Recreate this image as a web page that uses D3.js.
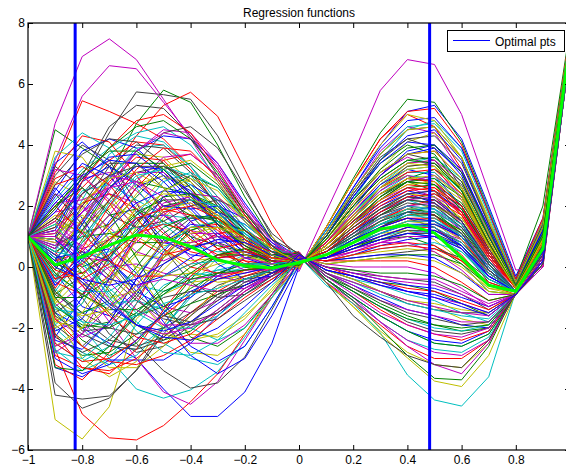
<!DOCTYPE html>
<html>
<head>
<meta charset="utf-8">
<script src="https://cdn.jsdelivr.net/npm/d3@7"></script>
<style>
  html, body { margin: 0; padding: 0; background: #fff; }
  svg { display: block; font-family: "Liberation Sans", Arial, Helvetica, sans-serif; }
</style>
</head>
<body>
<svg id="chart" width="566" height="467"></svg>
<script>
// Input grid shared by every regression curve
const xGrid = [-1, -0.9, -0.8, -0.7, -0.6, -0.5, -0.4, -0.3, -0.2, -0.1, 0,
               0.1, 0.2, 0.3, 0.4, 0.5, 0.6, 0.7, 0.8, 0.9, 1];

// Sampled regression functions, grouped by plotting colour
const blueCurves = [
  [1, -1.5, -2.0, -2.5, -3.0, -4.0, -4.9, -4.9, -4.1, -2.5, 0.0, 1.2, 2.6, 4.0, 5.1, 5.3, 4.2, 2.0, -0.3, 1.6, 7.7],
  [1, -3.3, -3.6, -3.05, -3.05, -3.05, -2.5, -1.6, -0.8, -0.2, 0.05, 0.8, 1.9, 3.0, 3.8, 4.0, 3.2, 1.3, -0.6, 1.1, 7.5],
  [1, 2.5, 3.8, 4.2, 3.9, 3.1, 2.2, 1.4, 0.8, 0.4, 0.1, 0.8, 1.8, 2.7, 3.2, 3.0, 2.0, 0.4, -0.7, 0.9, 7.5],
  [1, -0.6, 0.2, 1.5, 2.6, 3.0, 2.5, 1.4, 0.4, 0.0, 0.0, 1.2, 2.6, 3.9, 4.8, 4.9, 3.9, 1.8, -0.4, 1.5, 7.7],
  [1, 3.4, 4.1, 3.3, 1.8, 0.8, 0.6, 0.9, 1.0, 0.6, 0.15, 0.6, 1.4, 2.0, 2.4, 2.1, 1.2, -0.1, -0.8, 0.6, 7.3],
  [1, 1.0, 1.8, 2.9, 3.8, 4.3, 4.2, 3.4, 2.1, 0.9, 0.3, 0.3, 0.8, 1.3, 1.8, 2.0, 1.6, 0.4, -0.7, 0.8, 7.4],
  [1, -0.2, -1.3, -1.6, -0.8, 0.5, 1.5, 1.8, 1.4, 0.7, 0.25, 0.4, 0.8, 1.1, 1.4, 1.3, 0.7, -0.3, -0.8, 0.6, 7.3],
  [1, -2.3, -1.0, 0.6, 1.6, 1.7, 1.0, 0.1, -0.4, -0.3, 0.3, 0.2, 0.4, 0.7, 0.9, 1.0, 0.7, -0.2, -0.8, 0.5, 7.3],
  [1, 2.6, 1.6, 0.3, -0.8, -1.3, -1.0, -0.3, 0.3, 0.4, 0.3, 0.2, 0.3, 0.4, 0.4, 0.3, -0.2, -0.9, -0.9, 0.4, 7.2],
  [1, 2.3, 3.4, 3.0, 1.9, 0.9, 0.4, 0.3, 0.4, 0.3, 0.45, -0.4, -1.0, -1.6, -2.1, -2.4, -2.5, -2.1, -0.9, 0.1, 7.1],
  [1, -2.1, -1.7, -0.4, 1.1, 2.3, 2.7, 2.2, 1.2, 0.4, 0.4, -0.2, -0.6, -1.0, -1.4, -1.6, -1.9, -2.0, -0.9, 0.1, 7.2],
  [1, 1.2, 2.8, 3.3, 2.7, 2.0, 1.9, 2.0, 1.6, 0.8, 0.15, 0.6, 1.3, 1.9, 2.4, 2.5, 1.8, 0.4, -0.7, 0.8, 7.4],
  [1, 0.3, 0.5, 0.2, -0.6, -1.8, -2.9, -3.5, -3.0, -1.6, 0.05, 1.0, 2.3, 3.5, 4.3, 4.5, 3.5, 1.4, -0.5, 1.2, 7.6],
  [1, -0.5, 0.4, 0.6, -0.2, -1.5, -2.6, -3.1, -2.6, -1.3, 0.2, 0.5, 1.1, 1.8, 2.3, 2.2, 1.5, 0.2, -0.8, 0.7, 7.4],
  [1, 1.8, 2.9, 3.6, 3.7, 3.0, 2.0, 1.1, 0.5, 0.2, 0.05, 0.9, 2.0, 3.0, 3.7, 3.9, 3.1, 1.3, -0.6, 1.1, 7.5],
  [1, -2.4, -2.7, -1.8, -0.4, 0.8, 1.4, 1.3, 0.8, 0.3, 0.15, 0.7, 1.5, 2.1, 2.5, 2.3, 1.5, 0.1, -0.8, 0.7, 7.4],
  [1, 0.9, 0.2, -0.4, -0.6, -0.3, 0.3, 0.8, 0.9, 0.5, 0.35, 0.0, -0.2, -0.4, -0.6, -0.7, -1.0, -1.3, -0.9, 0.3, 7.2],
  [1, -0.6, 0.3, 1.3, 2.1, 2.5, 2.4, 1.8, 1.0, 0.4, 0.05, 1.0, 2.3, 3.4, 4.1, 4.0, 3.0, 1.0, -0.6, 1.2, 7.6],
  [1, 0.2, 1.4, 2.6, 3.3, 3.2, 2.4, 1.4, 0.6, 0.2, 0.4, -0.1, -0.3, -0.6, -0.8, -1.0, -1.3, -1.6, -0.9, 0.2, 7.2],
  [1, -3.0, -3.5, -3.2, -2.4, -1.5, -0.8, -0.4, -0.2, 0.0, 0.25, 0.3, 0.7, 1.1, 1.4, 1.4, 1.0, 0.0, -0.8, 0.6, 7.3],
  [1, 2.1, 3.0, 3.5, 3.4, 2.8, 1.9, 1.0, 0.3, 0.0, 0.2, 0.4, 0.9, 1.3, 1.6, 1.5, 1.0, -0.1, -0.8, 0.6, 7.3],
  [1, 0.0, -0.4, -0.6, -0.4, 0.1, 0.6, 0.9, 0.8, 0.4, 0.25, 0.3, 0.7, 1.0, 1.3, 1.2, 0.7, -0.3, -0.8, 0.5, 7.3],
  [1, 0.2, -0.5, -1.3, -1.9, -2.1, -1.8, -1.2, -0.6, -0.2, 0.25, 0.3, 0.6, 0.9, 1.1, 1.0, 0.6, -0.3, -0.8, 0.5, 7.3],
  [1, 0.4, -0.4, -1.2, -1.9, -2.3, -2.4, -2.0, -1.3, -0.5, 0.4, -0.1, -0.3, -0.5, -0.8, -0.9, -1.2, -1.5, -0.9, 0.2, 7.2]
];
const greenCurves = [
  [1, 4.5, 3.9, 3.3, 2.8, 2.6, 2.4, 1.9, 1.1, 0.4, -0.05, 1.3, 2.9, 4.4, 5.5, 5.4, 4.1, 1.9, -0.4, 2.0, 7.8],
  [1, 0.2, 1.5, 3.0, 4.7, 5.8, 5.4, 4.0, 2.3, 0.9, 0.05, 1.0, 2.3, 3.4, 4.0, 3.7, 2.5, 0.7, -0.7, 1.0, 7.5],
  [1, -1.2, -2.0, -1.8, -0.9, 0.3, 1.2, 1.5, 1.2, 0.6, 0.2, 0.6, 1.4, 2.3, 2.9, 3.2, 2.6, 1.0, -0.6, 0.9, 7.4],
  [1, 1.2, 0.4, -0.8, -1.9, -2.4, -2.1, -1.4, -0.7, -0.2, 0.1, 0.7, 1.6, 2.4, 2.8, 2.5, 1.5, 0.1, -0.8, 0.7, 7.4],
  [1, -0.9, -0.3, 0.8, 1.8, 2.2, 1.7, 0.8, 0.0, -0.2, 0.2, 0.5, 1.1, 1.7, 2.2, 2.1, 1.4, 0.1, -0.8, 0.7, 7.4],
  [1, -1.5, -2.4, -2.9, -2.5, -1.5, -0.4, 0.4, 0.6, 0.4, 0.2, 0.4, 0.9, 1.4, 1.8, 1.7, 1.1, -0.1, -0.8, 0.6, 7.3],
  [1, 1.6, 1.1, 1.4, 2.3, 3.2, 3.4, 2.7, 1.6, 0.6, 0.25, 0.3, 0.6, 1.0, 1.3, 1.4, 1.0, 0.0, -0.8, 0.6, 7.3],
  [1, 0.1, -0.2, 0.3, 1.2, 2.0, 2.2, 1.8, 1.0, 0.3, 0.25, 0.3, 0.7, 0.9, 1.0, 0.7, 0.1, -0.8, -0.9, 0.4, 7.2],
  [1, -0.3, 0.8, 1.7, 1.9, 1.5, 1.0, 0.7, 0.5, 0.3, 0.3, 0.1, 0.2, 0.3, 0.4, 0.4, 0.1, -0.6, -0.8, 0.4, 7.3],
  [1, 0.4, 0.0, 0.4, 1.4, 2.5, 3.0, 2.6, 1.6, 0.6, 0.4, -0.1, -0.3, -0.5, -0.6, -0.8, -1.2, -1.6, -0.9, 0.2, 7.2],
  [1, 0.9, -0.2, -1.2, -1.6, -1.3, -0.7, -0.2, 0.1, 0.1, 0.4, -0.3, -0.7, -1.2, -1.6, -1.9, -2.1, -2.0, -0.9, 0.1, 7.2],
  [1, 0.5, 1.0, 1.1, 0.8, 0.8, 1.2, 1.5, 1.2, 0.6, 0.2, 0.4, 1.0, 1.5, 1.9, 1.8, 1.1, -0.1, -0.8, 0.7, 7.3],
  [1, 2.0, 2.6, 1.8, 0.3, -1.2, -2.3, -2.6, -2.0, -0.9, 0.35, -0.4, -1.1, -2.0, -2.9, -3.65, -3.7, -2.6, -0.8, 0.4, 7.4],
  [1, -0.8, -1.5, -1.1, 0.0, 1.1, 1.7, 1.6, 1.0, 0.4, 0.15, 0.6, 1.4, 2.1, 2.6, 2.7, 2.1, 0.7, -0.7, 0.8, 7.4],
  [1, -2.2, -2.9, -2.8, -2.2, -1.6, -1.2, -0.9, -0.6, -0.2, 0.2, 0.4, 0.9, 1.3, 1.7, 1.7, 1.2, 0.1, -0.8, 0.6, 7.3],
  [1, -0.1, 1.2, 2.6, 3.4, 3.4, 2.6, 1.5, 0.6, 0.1, 0.15, 0.6, 1.4, 2.2, 2.8, 2.9, 2.3, 0.8, -0.7, 0.9, 7.4],
  [1, -1.3, -1.9, -2.0, -1.5, -0.7, 0.0, 0.4, 0.4, 0.2, 0.1, 0.7, 1.5, 2.3, 2.8, 2.7, 1.9, 0.5, -0.7, 0.8, 7.4],
  [1, -1.0, -1.0, -0.4, 0.5, 1.3, 1.7, 1.5, 1.0, 0.4, 0.05, 0.9, 2.0, 2.9, 3.5, 3.6, 2.8, 1.0, -0.6, 1.0, 7.5],
  [1, 0.1, 0.3, 0.9, 1.7, 2.3, 2.4, 2.0, 1.2, 0.5, 0.35, 0.0, -0.1, -0.2, -0.2, -0.3, -0.6, -1.1, -0.9, 0.3, 7.2],
  [1, -0.2, -0.9, -1.4, -1.4, -0.9, -0.2, 0.4, 0.6, 0.4, 0.45, -0.3, -0.8, -1.3, -1.7, -1.9, -2.0, -1.9, -0.9, 0.1, 7.2],
  [1, -3.3, -3.4, -2.6, -1.6, -0.8, -0.4, -0.2, -0.1, 0.0, 0.45, -0.4, -1.0, -1.6, -2.1, -2.5, -2.6, -2.2, -0.9, 0.1, 7.1],
  [1, 1.9, 3.1, 3.8, 3.8, 3.2, 2.3, 1.4, 0.7, 0.2, 0.05, 1.0, 2.2, 3.2, 3.9, 4.0, 3.1, 1.2, -0.6, 1.1, 7.5],
  [1, 2.0, 2.9, 3.9, 4.6, 4.8, 4.2, 3.1, 1.8, 0.7, 0.05, 0.9, 2.0, 2.9, 3.5, 3.4, 2.5, 0.8, -0.7, 1.0, 7.5]
];
const redCurves = [
  [1, 3.3, 5.45, 5.1, 4.7, 4.2, 3.3, 2.3, 1.3, 0.5, -0.05, 1.3, 2.8, 4.2, 5.0, 4.6, 3.2, 1.2, -0.5, 1.5, 7.7],
  [1, 1.3, 2.0, 3.0, 4.3, 5.3, 5.73, 4.94, 3.2, 1.4, 0.1, 0.9, 2.0, 3.0, 3.7, 3.8, 2.9, 1.0, -0.6, 1.0, 7.5],
  [1, -2.7, -4.82, -5.6, -5.67, -5.2, -4.42, -3.5, -2.2, -0.9, 0.1, 0.7, 1.6, 2.5, 3.1, 3.1, 2.3, 0.6, -0.7, 0.8, 7.4],
  [1, 0.4, 1.5, 2.8, 3.6, 3.5, 2.6, 1.3, 0.2, -0.2, -0.05, 1.3, 2.8, 4.2, 5.1, 5.2, 4.0, 1.8, -0.4, 1.6, 7.7],
  [1, -3.2, -3.7, -2.8, -1.2, 0.4, 1.3, 1.4, 1.0, 0.5, 0.2, 0.4, 0.9, 1.5, 2.0, 2.2, 1.7, 0.4, -0.7, 0.7, 7.4],
  [1, 1.5, 2.6, 3.5, 4.1, 4.0, 3.2, 2.0, 0.9, 0.3, 0.25, 0.3, 0.8, 1.3, 1.7, 1.8, 1.3, 0.2, -0.8, 0.7, 7.4],
  [1, 0.2, 0.5, 1.4, 2.6, 3.5, 3.7, 3.0, 1.8, 0.7, 0.2, 0.4, 0.9, 1.2, 1.4, 1.1, 0.4, -0.6, -0.9, 0.5, 7.3],
  [1, -2.9, -3.3, -3.4, -3.0, -2.3, -1.5, -0.8, -0.3, 0.0, 0.25, 0.3, 0.5, 0.7, 0.8, 0.7, 0.2, -0.6, -0.8, 0.5, 7.3],
  [1, 3.1, 4.3, 4.1, 3.0, 1.8, 0.9, 0.4, 0.2, 0.1, 0.3, 0.2, 0.2, 0.2, 0.2, 0.0, -0.5, -1.1, -0.9, 0.3, 7.2],
  [1, 1.1, 2.1, 2.4, 1.9, 1.1, 0.5, 0.3, 0.4, 0.3, 0.5, -0.5, -1.2, -1.9, -2.6, -3.0, -3.0, -2.4, -0.9, 0.0, 7.1],
  [1, -0.5, -0.9, -0.3, 0.9, 1.9, 2.2, 1.7, 0.9, 0.3, 0.45, -0.3, -0.8, -1.4, -1.9, -2.2, -2.4, -2.1, -0.9, 0.1, 7.1],
  [1, 1.6, 2.8, 3.9, 4.8, 5.0, 4.4, 3.2, 1.8, 0.7, 0.25, 0.3, 0.8, 1.2, 1.5, 1.5, 1.0, -0.1, -0.8, 0.6, 7.3],
  [1, 2.7, 3.0, 2.1, 0.9, 0.4, 0.6, 1.1, 1.2, 0.7, 0.3, 0.2, 0.4, 0.6, 0.7, 0.6, 0.2, -0.5, -0.8, 0.5, 7.3],
  [1, 2.9, 3.3, 2.7, 1.6, 0.6, 0.0, -0.2, -0.2, 0.0, 0.25, 0.3, 0.7, 1.0, 1.3, 1.3, 0.8, -0.2, -0.8, 0.6, 7.3],
  [1, -0.4, -0.2, 0.4, 1.1, 1.4, 1.2, 0.6, 0.1, -0.1, 0.35, 0.0, -0.3, -0.5, -0.7, -0.8, -1.1, -1.4, -0.9, 0.3, 7.2],
  [1, 0.4, -0.6, -1.6, -2.3, -2.5, -2.2, -1.5, -0.8, -0.3, 0.2, 0.5, 1.1, 1.6, 1.9, 1.7, 1.0, -0.2, -0.8, 0.6, 7.3],
  [1, -2.2, -3.3, -3.5, -2.7, -1.4, -0.3, 0.4, 0.5, 0.3, 0.2, 0.4, 0.8, 1.3, 1.6, 1.6, 1.1, 0.0, -0.8, 0.6, 7.3],
  [1, -2.5, -3.1, -3.0, -2.4, -1.6, -0.9, -0.4, -0.1, 0.0, 0.15, 0.6, 1.3, 2.0, 2.5, 2.6, 2.0, 0.6, -0.7, 0.8, 7.4],
  [1, 2.0, 1.1, 0.2, -0.3, -0.3, 0.1, 0.6, 0.8, 0.5, 0.1, 0.8, 1.7, 2.6, 3.1, 3.2, 2.4, 0.8, -0.7, 0.9, 7.5],
  [1, -1.7, -2.6, -3.1, -3.2, -2.9, -2.4, -1.7, -1.0, -0.4, 0.1, 0.7, 1.6, 2.4, 2.9, 2.8, 2.0, 0.5, -0.7, 0.8, 7.4],
  [1, -0.7, 0.6, 2.0, 3.2, 3.9, 3.8, 2.9, 1.7, 0.6, 0.1, 0.7, 1.5, 2.2, 2.7, 2.6, 1.8, 0.4, -0.7, 0.8, 7.4],
  [1, -0.4, 0.1, 0.9, 1.6, 1.9, 1.7, 1.2, 0.6, 0.2, 0.15, 0.6, 1.4, 2.1, 2.6, 2.5, 1.7, 0.3, -0.7, 0.8, 7.4],
  [1, -0.1, -0.4, 0.1, 1.0, 1.8, 2.0, 1.6, 0.9, 0.3, 0.2, 0.5, 1.2, 1.8, 2.3, 2.4, 1.8, 0.4, -0.7, 0.8, 7.4]
];
const cyanCurves = [
  [1, -1.0, -2.0, -3.0, -4.0, -4.3, -4.03, -3.43, -2.3, -1.0, 0.0, 1.0, 2.2, 3.5, 4.5, 4.8, 3.9, 1.9, -0.4, 1.4, 7.6],
  [1, -2.5, -3.1, -2.6, -1.5, -0.6, -0.2, -0.3, -0.5, -0.3, 0.05, 0.7, 1.7, 2.7, 3.4, 3.6, 2.9, 1.2, -0.6, 1.0, 7.5],
  [1, 2.2, 3.2, 3.9, 4.4, 4.6, 4.0, 2.9, 1.6, 0.6, 0.15, 0.7, 1.6, 2.4, 3.0, 2.9, 2.0, 0.4, -0.7, 0.8, 7.4],
  [1, -2.0, -2.8, -3.2, -2.9, -2.0, -1.0, -0.3, 0.0, 0.1, 0.0, 1.2, 2.5, 3.7, 4.6, 4.7, 3.8, 1.7, -0.5, 1.4, 7.6],
  [1, 2.0, 1.2, 0.1, -0.6, -0.8, -0.5, -0.1, 0.1, 0.1, 0.15, 0.6, 1.3, 1.9, 2.2, 1.9, 1.0, -0.2, -0.8, 0.6, 7.3],
  [1, 0.5, 2.2, 3.7, 4.3, 4.1, 3.3, 2.3, 1.3, 0.5, 0.2, 0.5, 1.1, 1.6, 1.8, 1.5, 0.7, -0.4, -0.8, 0.6, 7.3],
  [1, -0.7, -1.8, -2.6, -2.7, -2.0, -0.9, 0.0, 0.4, 0.3, 0.25, 0.3, 0.7, 1.0, 1.2, 1.1, 0.6, -0.4, -0.8, 0.5, 7.3],
  [1, -2.7, -3.4, -3.0, -1.9, -0.9, -0.3, -0.1, -0.1, 0.0, 0.3, 0.2, 0.4, 0.6, 0.7, 0.8, 0.5, -0.3, -0.8, 0.5, 7.3],
  [1, 1.4, 2.5, 2.7, 2.2, 1.7, 1.6, 1.7, 1.4, 0.7, 0.45, -0.4, -1.1, -1.8, -2.4, -2.7, -2.8, -2.3, -0.9, 0.1, 7.1],
  [1, -0.8, 0.4, 1.1, 1.3, 1.4, 1.6, 1.6, 1.1, 0.5, 0.4, -0.1, -0.4, -0.6, -0.9, -1.1, -1.5, -1.8, -0.9, 0.2, 7.2],
  [1, -0.1, 1.4, 2.9, 3.9, 4.0, 3.3, 2.1, 1.0, 0.3, 0.45, -0.4, -1.0, -1.6, -2.1, -2.5, -2.6, -2.2, -0.9, 0.1, 7.1],
  [1, 0.9, 0.1, -0.9, -1.8, -2.5, -3.0, -3.2, -2.6, -1.3, 0.2, 0.3, 0.6, 0.9, 1.1, 1.0, 0.5, -0.4, -0.8, 0.5, 7.3],
  [1, -1.4, -1.5, -1.2, -1.1, -1.4, -2.0, -2.4, -2.0, -1.0, 0.35, -0.6, -1.2, -2.16, -3.54, -4.36, -4.56, -3.6, -0.8, 0.4, 7.4],
  [1, 0.3, 1.0, 2.0, 2.9, 3.3, 3.0, 2.1, 1.1, 0.4, 0.1, 0.8, 1.8, 2.6, 3.2, 3.3, 2.5, 0.8, -0.7, 0.9, 7.5],
  [1, 3.6, 4.4, 3.9, 2.6, 1.4, 0.7, 0.5, 0.5, 0.3, 0.1, 0.7, 1.6, 2.5, 3.1, 3.1, 2.3, 0.7, -0.7, 0.9, 7.4],
  [1, -1.9, -1.2, 0.2, 1.7, 2.8, 3.1, 2.6, 1.5, 0.6, 0.4, -0.2, -0.5, -0.9, -1.2, -1.4, -1.6, -1.7, -0.9, 0.2, 7.2],
  [1, 0.7, 0.1, -0.7, -1.5, -2.0, -2.0, -1.6, -0.9, -0.3, 0.45, -0.3, -0.8, -1.3, -1.7, -2.0, -2.1, -1.9, -0.9, 0.1, 7.1],
  [1, -0.3, -0.8, -0.8, -0.2, 0.6, 1.3, 1.5, 1.1, 0.5, 0.2, 0.4, 0.9, 1.4, 1.8, 1.8, 1.3, 0.2, -0.8, 0.7, 7.3],
  [1, -0.5, 0.8, 2.1, 3.0, 3.2, 2.7, 1.8, 0.9, 0.3, 0.2, 0.5, 1.1, 1.6, 2.0, 1.9, 1.3, 0.1, -0.8, 0.7, 7.4],
  [1, 0.5, 0.3, 0.5, 1.1, 1.8, 2.2, 2.0, 1.3, 0.5, 0.2, 0.4, 1.0, 1.5, 1.9, 1.9, 1.4, 0.2, -0.8, 0.7, 7.4],
  [1, 1.4, 0.3, -1.0, -2.1, -2.8, -2.9, -2.4, -1.5, -0.6, 0.2, 0.5, 1.0, 1.4, 1.7, 1.6, 1.0, -0.1, -0.8, 0.6, 7.3],
  [1, -2.8, -3.0, -2.3, -1.2, -0.3, 0.1, 0.2, 0.1, 0.1, 0.2, 0.4, 0.8, 1.2, 1.5, 1.5, 1.1, 0.0, -0.8, 0.6, 7.3],
  [1, -1.3, -1.8, -1.9, -1.6, -1.2, -0.9, -0.7, -0.4, -0.1, 0.2, 0.4, 0.8, 1.1, 1.4, 1.3, 0.8, -0.2, -0.8, 0.6, 7.3]
];
const magentaCurves = [
  [1, 4.7, 6.9, 7.48, 6.8, 5.5, 4.2, 2.8, 1.5, 0.6, 0.0, 1.1, 2.5, 3.8, 4.6, 4.4, 3.1, 1.1, -0.6, 1.3, 7.6],
  [1, 3.5, 5.6, 6.6, 6.5, 5.4, 4.3, 3.3, 2.0, 0.9, 0.05, 0.9, 2.1, 3.1, 3.6, 3.3, 2.2, 0.5, -0.7, 0.9, 7.5],
  [1, 0.5, -0.6, -1.8, -3.0, -4.1, -4.5, -3.76, -2.4, -1.0, 0.15, 0.6, 1.4, 2.2, 2.8, 3.0, 2.4, 0.8, -0.7, 0.9, 7.4],
  [1, 1.8, 2.0, 1.3, 0.5, 0.2, 0.6, 1.1, 1.2, 0.7, -0.15, 1.8, 3.7, 5.79, 6.8, 6.64, 5.0, 2.46, -0.1, 0.0, 7.3],
  [1, 0.8, 0.6, 0.9, 1.5, 2.0, 2.1, 1.6, 0.8, 0.2, 0.15, 0.7, 1.5, 2.2, 2.6, 2.3, 1.4, 0.0, -0.8, 0.7, 7.4],
  [1, 0.6, 1.8, 2.4, 2.1, 1.2, 0.3, -0.3, -0.5, -0.3, 0.2, 0.5, 1.0, 1.6, 2.0, 1.9, 1.2, 0.0, -0.8, 0.7, 7.4],
  [1, -2.8, -2.2, -0.6, 1.0, 2.1, 2.3, 1.8, 1.0, 0.4, 0.25, 0.4, 0.8, 1.3, 1.6, 1.5, 0.9, -0.2, -0.8, 0.6, 7.3],
  [1, 2.4, 2.0, 0.9, -0.4, -1.3, -1.5, -1.1, -0.6, -0.2, 0.3, 0.2, 0.5, 0.8, 1.1, 1.2, 0.9, -0.1, -0.8, 0.6, 7.3],
  [1, 1.9, 2.9, 3.1, 2.5, 1.7, 1.2, 1.0, 0.8, 0.4, 0.25, 0.3, 0.6, 0.8, 0.8, 0.5, -0.1, -0.9, -0.9, 0.4, 7.2],
  [1, 0.0, 1.1, 2.5, 3.8, 4.5, 4.4, 3.4, 2.0, 0.8, 0.35, 0.1, 0.0, 0.0, 0.0, -0.2, -0.7, -1.3, -0.9, 0.3, 7.2],
  [1, -1.3, -0.6, 0.0, 0.1, -0.2, -0.4, -0.3, -0.1, 0.0, 0.4, -0.1, -0.3, -0.6, -0.8, -1.0, -1.2, -1.5, -0.9, 0.2, 7.2],
  [1, 2.1, 2.2, 2.6, 3.1, 3.1, 2.4, 1.4, 0.6, 0.1, 0.5, -0.5, -1.1, -1.8, -2.4, -2.8, -2.9, -2.4, -0.9, 0.0, 7.1],
  [1, 1.0, 0.3, 0.2, 0.8, 1.7, 2.4, 2.3, 1.5, 0.6, 0.35, -0.4, -1.0, -1.8, -2.6, -3.2, -3.5, -2.5, -0.8, 0.4, 7.3],
  [1, -1.7, -2.3, -1.9, -0.8, 0.4, 1.1, 1.1, 0.7, 0.3, 0.2, 0.5, 1.1, 1.6, 2.0, 2.1, 1.5, 0.3, -0.8, 0.7, 7.4],
  [1, 0.0, 0.7, 1.7, 2.8, 3.6, 3.7, 3.0, 1.8, 0.7, 0.2, 0.5, 1.2, 1.8, 2.2, 2.3, 1.8, 0.5, -0.7, 0.8, 7.4],
  [1, 1.1, 2.4, 3.0, 2.8, 2.0, 1.1, 0.3, -0.1, -0.1, 0.1, 0.8, 1.8, 2.8, 3.4, 3.5, 2.8, 1.1, -0.6, 1.0, 7.5],
  [1, 3.2, 3.0, 2.2, 1.3, 0.8, 0.8, 1.0, 1.0, 0.5, 0.1, 0.8, 1.7, 2.5, 3.0, 2.8, 1.8, 0.3, -0.8, 0.8, 7.4],
  [1, 1.5, 0.6, -0.5, -1.4, -1.9, -1.9, -1.5, -0.8, -0.3, 0.35, 0.0, -0.1, -0.3, -0.4, -0.4, -0.8, -1.2, -0.9, 0.3, 7.2],
  [1, 1.2, 0.7, -0.1, -1.0, -1.9, -2.5, -2.5, -1.9, -0.9, 0.25, 0.3, 0.5, 0.8, 1.0, 1.0, 0.6, -0.3, -0.8, 0.5, 7.3],
  [1, -2.6, -2.2, -1.3, -0.6, -0.4, -0.6, -0.8, -0.7, -0.3, 0.4, -0.2, -0.5, -0.8, -1.1, -1.3, -1.5, -1.6, -0.9, 0.2, 7.2],
  [1, 0.6, 1.5, 2.7, 3.8, 4.4, 4.2, 3.2, 1.9, 0.7, 0.35, 0.0, -0.2, -0.4, -0.5, -0.6, -0.9, -1.3, -0.9, 0.3, 7.2],
  [1, 1.0, 0.0, -1.1, -1.9, -2.2, -2.0, -1.4, -0.7, -0.2, 0.4, -0.2, -0.6, -1.1, -1.4, -1.6, -1.8, -1.8, -0.9, 0.2, 7.2],
  [1, 0.7, 1.8, 2.6, 2.8, 2.3, 1.5, 0.8, 0.3, 0.1, 0.45, -0.3, -0.9, -1.5, -1.9, -2.2, -2.3, -2.0, -0.9, 0.1, 7.1]
];
const oliveCurves = [
  [1, -5.0, -5.64, -4.58, -1.7, -0.9, -0.5, -0.4, -0.3, -0.1, 0.0, 0.9, 2.0, 3.2, 4.1, 4.4, 3.6, 1.6, -0.5, 1.2, 7.6],
  [1, 0.0, -0.6, -0.5, 0.4, 1.6, 2.4, 2.3, 1.6, 0.7, 0.1, 0.8, 1.8, 2.7, 3.3, 3.4, 2.5, 0.8, -0.7, 0.9, 7.5],
  [1, -1.8, -1.2, 0.4, 2.0, 2.9, 2.8, 1.9, 0.8, 0.1, 0.1, 0.8, 1.8, 2.6, 3.0, 2.7, 1.7, 0.2, -0.8, 0.8, 7.4],
  [1, 2.8, 2.3, 1.2, 0.4, 0.3, 0.9, 1.6, 1.7, 1.0, -0.05, 1.3, 2.8, 4.0, 5.0, 4.8, 3.6, 1.4, -0.5, 1.5, 7.7],
  [1, 3.8, 3.6, 2.4, 1.2, 0.7, 0.8, 1.0, 0.9, 0.5, 0.2, 0.4, 0.9, 1.4, 1.8, 2.0, 1.5, 0.3, -0.7, 0.7, 7.4],
  [1, -1.1, 0.2, 1.0, 1.0, 0.5, 0.2, 0.3, 0.5, 0.4, 0.25, 0.3, 0.7, 1.1, 1.5, 1.6, 1.2, 0.1, -0.8, 0.6, 7.3],
  [1, -1.6, -3.0, -3.6, -3.1, -1.9, -0.6, 0.3, 0.6, 0.4, 0.2, 0.4, 0.8, 1.1, 1.2, 0.9, 0.2, -0.7, -0.9, 0.4, 7.3],
  [1, 1.7, 1.4, 1.9, 2.7, 3.0, 2.6, 1.6, 0.7, 0.1, 0.3, 0.2, 0.4, 0.5, 0.6, 0.5, 0.0, -0.7, -0.8, 0.4, 7.3],
  [1, 0.8, 1.9, 3.0, 3.7, 3.6, 2.8, 1.8, 0.9, 0.3, 0.5, -0.5, -1.3, -2.1, -2.8, -3.2, -3.3, -2.5, -0.85, 0.1, 7.2],
  [1, 0.2, 1.6, 2.1, 1.6, 0.6, -0.2, -0.5, -0.4, -0.2, 0.4, -0.2, -0.5, -0.8, -1.1, -1.3, -1.7, -1.9, -0.9, 0.2, 7.2],
  [1, 1.5, 0.9, 0.0, -1.0, -2.0, -2.8, -2.9, -2.2, -1.0, 0.1, 0.8, 1.9, 2.8, 3.4, 3.5, 2.6, 0.9, -0.7, 1.0, 7.5],
  [1, 1.1, 1.7, 1.2, -0.1, -1.4, -2.2, -2.3, -1.7, -0.7, 0.3, 0.1, 0.2, 0.3, 0.3, 0.2, -0.2, -0.8, -0.9, 0.4, 7.2],
  [1, -0.2, -0.9, -1.5, -1.9, -2.2, -2.4, -2.2, -1.6, -0.8, 0.35, -0.5, -1.3, -2.2, -2.98, -3.74, -3.92, -2.9, -0.85, 0.3, 7.3],
  [1, 1.4, 1.2, 0.6, 0.0, -0.3, -0.2, 0.1, 0.3, 0.2, 0.4, -0.1, -0.4, -0.8, -1.1, -1.2, -1.4, -1.5, -0.9, 0.2, 7.2],
  [1, -1.3, -2.6, -3.3, -3.3, -2.6, -1.6, -0.7, -0.1, 0.1, 0.2, 0.4, 0.8, 1.2, 1.5, 1.4, 0.9, -0.2, -0.8, 0.6, 7.3],
  [1, 0.4, -0.5, -1.0, -0.8, -0.1, 0.8, 1.3, 1.2, 0.6, 0.15, 0.6, 1.3, 1.9, 2.4, 2.3, 1.6, 0.3, -0.8, 0.7, 7.4],
  [1, -0.9, 0.0, 1.2, 2.4, 3.3, 3.5, 2.8, 1.6, 0.6, 0.2, 0.4, 1.0, 1.5, 1.9, 2.0, 1.6, 0.4, -0.7, 0.7, 7.4],
  [1, 0.9, 2.1, 2.9, 3.1, 2.6, 1.8, 1.0, 0.4, 0.1, 0.0, 1.1, 2.5, 3.7, 4.5, 4.6, 3.6, 1.5, -0.5, 1.3, 7.6],
  [1, -2.6, -2.0, -0.6, 0.9, 1.9, 2.1, 1.6, 0.8, 0.3, 0.05, 0.9, 1.9, 2.8, 3.4, 3.3, 2.4, 0.7, -0.7, 0.9, 7.5],
  [1, -1.2, -0.3, 0.9, 1.9, 2.4, 2.3, 1.7, 0.9, 0.3, 0.05, 0.9, 2.1, 3.1, 3.7, 3.8, 2.9, 1.1, -0.6, 1.0, 7.5],
  [1, -1.8, -2.0, -1.3, -0.2, 0.8, 1.3, 1.3, 0.8, 0.3, 0.1, 0.7, 1.7, 2.6, 3.2, 3.3, 2.6, 0.9, -0.7, 0.9, 7.5],
  [1, -1.1, -1.6, -1.4, -0.6, 0.4, 1.1, 1.3, 1.0, 0.4, 0.1, 0.7, 1.6, 2.4, 2.9, 3.0, 2.3, 0.7, -0.7, 0.9, 7.4],
  [1, -2.0, -1.5, -0.2, 1.3, 2.5, 2.9, 2.5, 1.5, 0.6, 0.15, 0.6, 1.4, 2.2, 2.7, 2.8, 2.2, 0.7, -0.7, 0.8, 7.4]
];
const grayCurves = [
  [1, 1.0, 2.8, 4.4, 5.74, 5.65, 5.5, 4.3, 2.6, 1.0, 0.0, 1.0, 2.4, 3.6, 4.2, 3.9, 2.6, 0.7, -0.6, 1.2, 7.5],
  [1, -4.2, -4.33, -4.23, -3.4, -2.2, -1.2, -0.6, -0.3, -0.1, 0.1, 0.7, 1.6, 2.6, 3.3, 3.4, 2.7, 1.1, -0.6, 1.0, 7.5],
  [1, -3.8, -4.63, -4.3, -3.37, -2.0, -0.9, -0.2, 0.1, 0.2, 0.15, 0.6, 1.4, 2.2, 2.8, 2.7, 1.9, 0.4, -0.7, 0.8, 7.4],
  [1, 0.3, -0.5, -1.5, -2.5, -3.4, -3.97, -3.8, -2.95, -1.4, 0.2, 0.4, 1.0, 1.7, 2.2, 2.4, 1.9, 0.5, -0.7, 0.8, 7.4],
  [1, 3.0, 4.0, 3.5, 2.1, 0.6, -0.5, -1.0, -0.9, -0.4, 0.2, 0.5, 1.2, 1.7, 2.0, 1.7, 0.9, -0.3, -0.8, 0.6, 7.3],
  [1, 0.3, -1.0, -2.2, -2.8, -2.6, -1.9, -1.0, -0.4, -0.1, 0.2, 0.5, 1.0, 1.4, 1.6, 1.3, 0.6, -0.5, -0.8, 0.5, 7.3],
  [1, -0.4, 0.9, 2.2, 3.1, 3.3, 2.8, 1.8, 0.9, 0.3, 0.0, 1.1, 2.5, 3.7, 4.5, 4.6, 3.6, 1.5, -0.5, 1.4, 7.6],
  [1, 0.9, 2.4, 3.4, 3.4, 2.6, 1.5, 0.6, 0.0, -0.2, 0.3, 0.2, 0.3, 0.4, 0.5, 0.6, 0.3, -0.4, -0.8, 0.5, 7.3],
  [1, 1.3, 3.0, 4.6, 5.3, 5.2, 4.3, 3.0, 1.7, 0.6, 0.35, 0.0, -0.2, -0.3, -0.4, -0.5, -0.9, -1.4, -0.9, 0.3, 7.2],
  [1, 0.7, 1.2, 2.2, 3.4, 4.4, 4.6, 3.9, 2.5, 1.1, 0.4, -0.1, -0.4, -0.8, -1.2, -1.4, -1.5, -1.5, -0.9, 0.2, 7.2],
  [1, -1.0, -2.1, -2.0, -1.0, 0.1, 0.7, 0.8, 0.5, 0.2, 0.15, 0.7, 1.5, 2.3, 2.9, 2.8, 2.0, 0.5, -0.7, 0.8, 7.4],
  [1, 3.3, 2.6, 1.7, 1.3, 1.5, 2.0, 2.2, 1.8, 0.9, 0.45, -0.3, -0.8, -1.3, -1.8, -2.1, -2.2, -2.0, -0.9, 0.1, 7.1],
  [1, -1.9, -2.6, -1.8, -0.4, 0.9, 1.6, 1.6, 1.0, 0.4, 0.35, -0.5, -1.6, -2.3, -2.9, -3.2, -3.3, -2.4, -0.8, 0.4, 7.3],
  [1, 0.6, 2.0, 3.3, 4.0, 3.9, 3.1, 2.0, 1.0, 0.4, 0.0, 1.1, 2.4, 3.5, 4.2, 4.3, 3.4, 1.4, -0.5, 1.3, 7.6],
  [1, -1.6, -2.2, -2.6, -2.7, -2.4, -1.8, -1.1, -0.5, -0.1, 0.05, 1.0, 2.2, 3.1, 3.7, 3.5, 2.5, 0.7, -0.7, 1.0, 7.5],
  [1, 2.7, 3.7, 4.2, 4.1, 3.4, 2.4, 1.4, 0.7, 0.3, 0.25, 0.3, 0.6, 0.9, 1.1, 1.1, 0.7, -0.2, -0.8, 0.5, 7.3],
  [1, -0.9, -1.5, -2.0, -2.2, -2.0, -1.5, -0.9, -0.4, -0.1, 0.25, 0.3, 0.6, 0.9, 1.2, 1.2, 0.8, -0.1, -0.8, 0.6, 7.3],
  [1, -1.5, -0.9, 0.3, 1.5, 2.2, 2.2, 1.6, 0.8, 0.3, 0.15, 0.6, 1.2, 1.8, 2.2, 2.1, 1.4, 0.1, -0.8, 0.7, 7.4],
  [1, -0.8, -1.7, -2.4, -2.6, -2.3, -1.6, -0.9, -0.4, -0.1, 0.2, 0.5, 1.2, 1.9, 2.4, 2.5, 2.0, 0.6, -0.7, 0.8, 7.4],
  [1, 1.0, 0.5, -0.3, -1.1, -1.7, -1.9, -1.7, -1.1, -0.5, 0.15, 0.6, 1.3, 1.9, 2.3, 2.2, 1.5, 0.2, -0.8, 0.7, 7.4],
  [1, -2.3, -2.8, -2.4, -1.6, -1.0, -0.8, -0.8, -0.6, -0.2, 0.2, 0.5, 1.1, 1.7, 2.1, 2.0, 1.3, 0.1, -0.8, 0.7, 7.4],
  [1, 1.6, 2.4, 3.0, 3.3, 3.3, 2.9, 2.1, 1.2, 0.5, 0.2, 0.5, 1.0, 1.5, 1.8, 1.7, 1.1, -0.1, -0.8, 0.6, 7.3],
  [1, 2.4, 1.4, 0.2, -0.9, -1.6, -1.8, -1.5, -0.9, -0.3, 0.45, -0.2, -0.7, -1.1, -1.5, -1.7, -1.9, -1.8, -0.9, 0.1, 7.2]
];

// Mean of the regression functions
const meanCurve = [1.0, 0.07, 0.34, 0.72, 1.05, 0.97, 0.67, 0.23, 0.04, -0.03, 0.14,
                   0.4, 0.8, 1.25, 1.38, 1.12, 0.3, -0.6, -0.8, 0.6, 7.4];

// Locations of the optimal points
const optimalPts = [-0.826, 0.482];

// Axis ticks and their labels
const xTicks = [-1, -0.8, -0.6, -0.4, -0.2, 0, 0.2, 0.4, 0.6, 0.8];
const xTickLabels = ["\u22121", "\u22120.8", "\u22120.6", "\u22120.4", "\u22120.2", "0", "0.2", "0.4", "0.6", "0.8"];
const yTicks = [-6, -4, -2, 0, 2, 4, 6, 8];
const yTickLabels = ["\u22126", "\u22124", "\u22122", "0", "2", "4", "6", "8"];

const titleText = "Regression functions";
const legendLabel = "Optimal pts";

// ---- drawing ----
const svg = d3.select("#chart");
const axLeft = 28, axRight = 570, axTop = 23, axBottom = 450;

const x = d3.scaleLinear().domain([-1, 1]).range([axLeft, axRight]);
const y = d3.scaleLinear().domain([-6, 8]).range([axBottom, axTop]);

svg.append("rect").attr("width", 566).attr("height", 467).attr("fill", "#fff");

svg.append("defs").append("clipPath").attr("id", "plot-clip")
  .append("rect").attr("x", axLeft).attr("y", axTop)
  .attr("width", axRight - axLeft).attr("height", axBottom - axTop);

const line = d3.line().x((d, i) => x(xGrid[i])).y(d => y(d));

// Interleave colours the way the curves were plotted one after another
const groups = [
  { curves: blueCurves, color: "#0000ff" },
  { curves: greenCurves, color: "#008000" },
  { curves: redCurves, color: "#ff0000" },
  { curves: cyanCurves, color: "#00bfbf" },
  { curves: magentaCurves, color: "#bf00bf" },
  { curves: oliveCurves, color: "#bfbf00" },
  { curves: grayCurves, color: "#404040" }
];
const ordered = [];
const maxLen = d3.max(groups, g => g.curves.length);
for (let k = 0; k < maxLen; k++) {
  groups.forEach(g => { if (g.curves[k]) ordered.push({ values: g.curves[k], color: g.color }); });
}

const plot = svg.append("g").attr("clip-path", "url(#plot-clip)");
plot.selectAll("path.curve").data(ordered).join("path")
  .attr("class", "curve")
  .attr("d", d => line(d.values))
  .attr("fill", "none")
  .attr("stroke", d => d.color)
  .attr("stroke-width", 1)
  .attr("stroke-linejoin", "round");

plot.append("path")
  .attr("d", line(meanCurve))
  .attr("fill", "none")
  .attr("stroke", "#00ff00")
  .attr("stroke-width", 3)
  .attr("stroke-linejoin", "round");

plot.selectAll("line.opt").data(optimalPts).join("line")
  .attr("class", "opt")
  .attr("x1", d => x(d)).attr("x2", d => x(d))
  .attr("y1", y(-6)).attr("y2", y(8))
  .attr("stroke", "#0000ff")
  .attr("stroke-width", 3);

// Axes with inward-pointing ticks on all four sides
function styleAxis(g) {
  g.select(".domain").remove();
  g.selectAll(".tick line").attr("stroke", "#000").attr("stroke-width", 1);
  g.selectAll(".tick text").attr("fill", "#000")
    .style("font-family", '"Liberation Sans", Arial, Helvetica, sans-serif')
    .style("font-size", "12px");
}

svg.append("g").attr("transform", `translate(0,${axBottom})`)
  .call(d3.axisBottom(x).tickValues(xTicks).tickFormat((d, i) => xTickLabels[i])
    .tickSizeInner(-5).tickSizeOuter(0).tickPadding(5))
  .call(styleAxis);

svg.append("g").attr("transform", `translate(0,${axTop})`)
  .call(d3.axisTop(x).tickValues(xTicks).tickFormat("")
    .tickSizeInner(-5).tickSizeOuter(0))
  .call(styleAxis);

svg.append("g").attr("transform", `translate(${axLeft},0)`)
  .call(d3.axisLeft(y).tickValues(yTicks).tickFormat((d, i) => yTickLabels[i])
    .tickSizeInner(-5).tickSizeOuter(0).tickPadding(3))
  .call(styleAxis);

svg.append("g").attr("transform", `translate(${axRight},0)`)
  .call(d3.axisRight(y).tickValues(yTicks).tickFormat("")
    .tickSizeInner(-5).tickSizeOuter(0))
  .call(styleAxis);

svg.append("rect")
  .attr("x", axLeft).attr("y", axTop)
  .attr("width", axRight - axLeft).attr("height", axBottom - axTop)
  .attr("fill", "none").attr("stroke", "#000").attr("stroke-width", 1.2);

// Title
svg.append("text")
  .attr("x", (axLeft + axRight) / 2).attr("y", 16.5)
  .attr("text-anchor", "middle")
  .style("font-size", "12px")
  .attr("fill", "#000")
  .text(titleText);

// Legend
const legend = svg.append("g");
legend.append("rect")
  .attr("x", 447.5).attr("y", 30.5).attr("width", 117).attr("height", 21)
  .attr("fill", "#fff").attr("stroke", "#000").attr("stroke-width", 1);
legend.append("line")
  .attr("x1", 453).attr("x2", 490).attr("y1", 40.5).attr("y2", 40.5)
  .attr("stroke", "#0000ff").attr("stroke-width", 1);
legend.append("text")
  .attr("x", 495).attr("y", 45.5)
  .style("font-size", "12px")
  .attr("fill", "#000")
  .text(legendLabel);
</script>
</body>
</html>
